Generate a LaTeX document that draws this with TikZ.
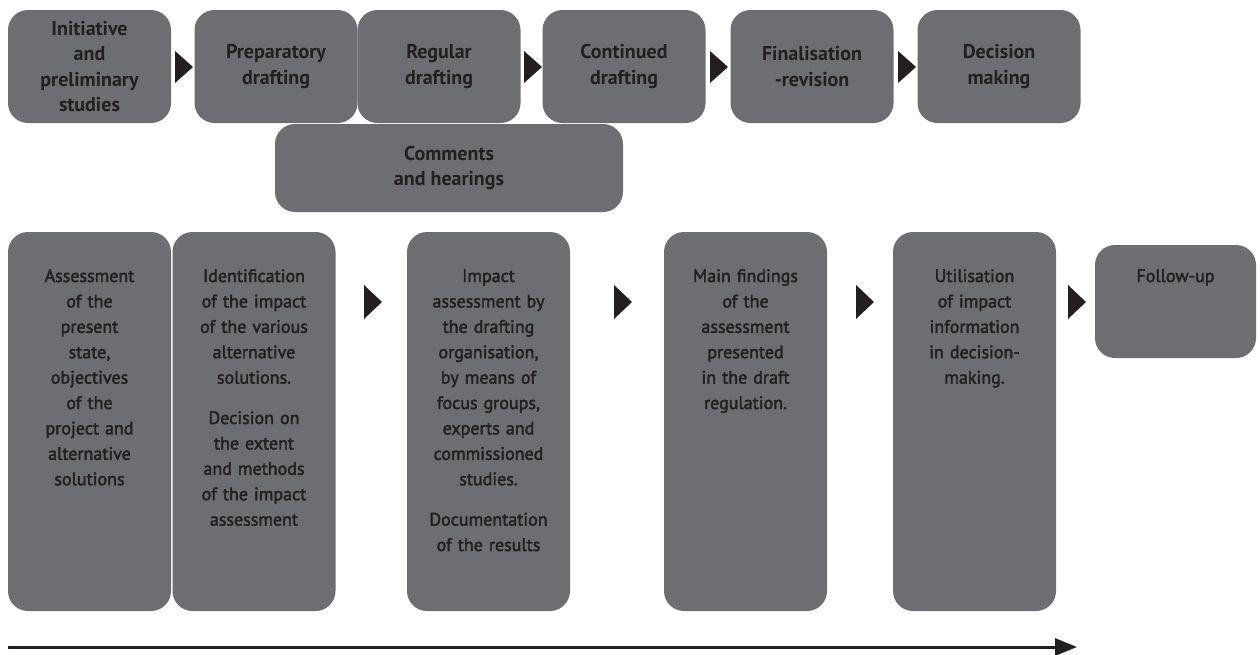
\documentclass[tikz,border=0pt]{standalone}
\usepackage{fontspec}
\setmainfont{PT Sans}
\newfontfamily\botfont[FakeBold=2.2]{PT Sans}
\usetikzlibrary{arrows.meta}
\definecolor{boxgray}{HTML}{6D6E71}
\definecolor{ink}{HTML}{231F20}
\begin{document}
\begin{tikzpicture}[x=1pt,y=-1pt,
  box/.style={fill=boxgray, rounded corners=20pt, draw=none, inner sep=0pt},
  toptext/.style={font=\bfseries\fontsize{20}{25.5}\selectfont, text=ink, align=center},
  bottext/.style={font=\botfont\fontsize{18}{25.4}\selectfont, text=ink, align=center, text width=160pt, anchor=base, inner sep=0pt},
  tri/.style={fill=ink},
  topbox/.style={box, toptext, minimum width=163pt, minimum height=113pt},
  tallbox/.style={box, minimum width=163pt, minimum height=379pt}]
\useasboundingbox[fill=white] (0,0) rectangle (1260,654);

% top row
\node[topbox] (t1) at (89.5,66.5) {Initiative\\and\\preliminary\\studies};
\node[topbox] (t2) at (276,66.5) {Preparatory\\drafting};
\node[topbox] (t3) at (439,66.5) {Regular\\drafting};
\node[topbox] (t4) at (624,66.5) {Continued\\drafting};
\node[topbox] (t5) at (812,66.5) {Finalisation\\-revision};
\node[topbox] (t6) at (999,66.5) {Decision\\making};
\node[box, toptext, minimum width=348pt, minimum height=88pt] (cm) at (449,168) {Comments\\and hearings};

% top arrowheads
\fill[tri] (175,51) -- (193,67) -- (175,83) -- cycle;
\fill[tri] (524,51) -- (542,67) -- (524,83) -- cycle;
\fill[tri] (710,51) -- (728,67) -- (710,83) -- cycle;
\fill[tri] (898,51) -- (916,67) -- (898,83) -- cycle;

% bottom row
\node[tallbox] (b1) at (89.5,421.5) {};
\node[tallbox] (b2) at (254,421.5) {};
\node[tallbox] (b3) at (488.5,421.5) {};
\node[tallbox] (b4) at (745.5,421.5) {};
\node[tallbox] (b5) at (974.5,421.5) {};
\node[box, minimum width=161pt, minimum height=113pt] (b6) at (1175.5,301.5) {};

\node[bottext] (b1t) at (89.5,282) {Assessment\\of the\\present\\state,\\objectives\\of the\\project and\\alternative\\solutions};
\node[bottext] (b2t) at (254,282) {Identification\\of the impact\\of the various\\alternative\\solutions.\\[15pt]Decision on\\the extent\\and methods\\of the impact\\assessment};
\node[bottext] (b3t) at (488.5,282) {Impact\\assessment by\\the drafting\\organisation,\\by means of\\focus groups,\\experts and\\commissioned\\studies.\\[15pt]Documentation\\of the results};
\node[bottext] (b4t) at (745.5,282) {Main findings\\of the\\assessment\\presented\\in the draft\\regulation.};
\node[bottext] (b5t) at (974.5,282) {Utilisation\\of impact\\information\\in decision-\\making.};
\node[bottext] (b6t) at (1175.5,282) {Follow-up};

% bottom arrowheads
\fill[tri] (364,285) -- (382,302) -- (364,319) -- cycle;
\fill[tri] (614,285) -- (632,302) -- (614,319) -- cycle;
\fill[tri] (856,285) -- (874,302) -- (856,319) -- cycle;
\fill[tri] (1068,285) -- (1086,302) -- (1068,319) -- cycle;

% time arrow
\coordinate (ar0) at (8,647);
\coordinate (ar1) at (1077,647);
\draw[ink, line width=3pt, -{Triangle[length=22pt,width=17pt]}] (ar0) -- (ar1);
\end{tikzpicture}
\end{document}
